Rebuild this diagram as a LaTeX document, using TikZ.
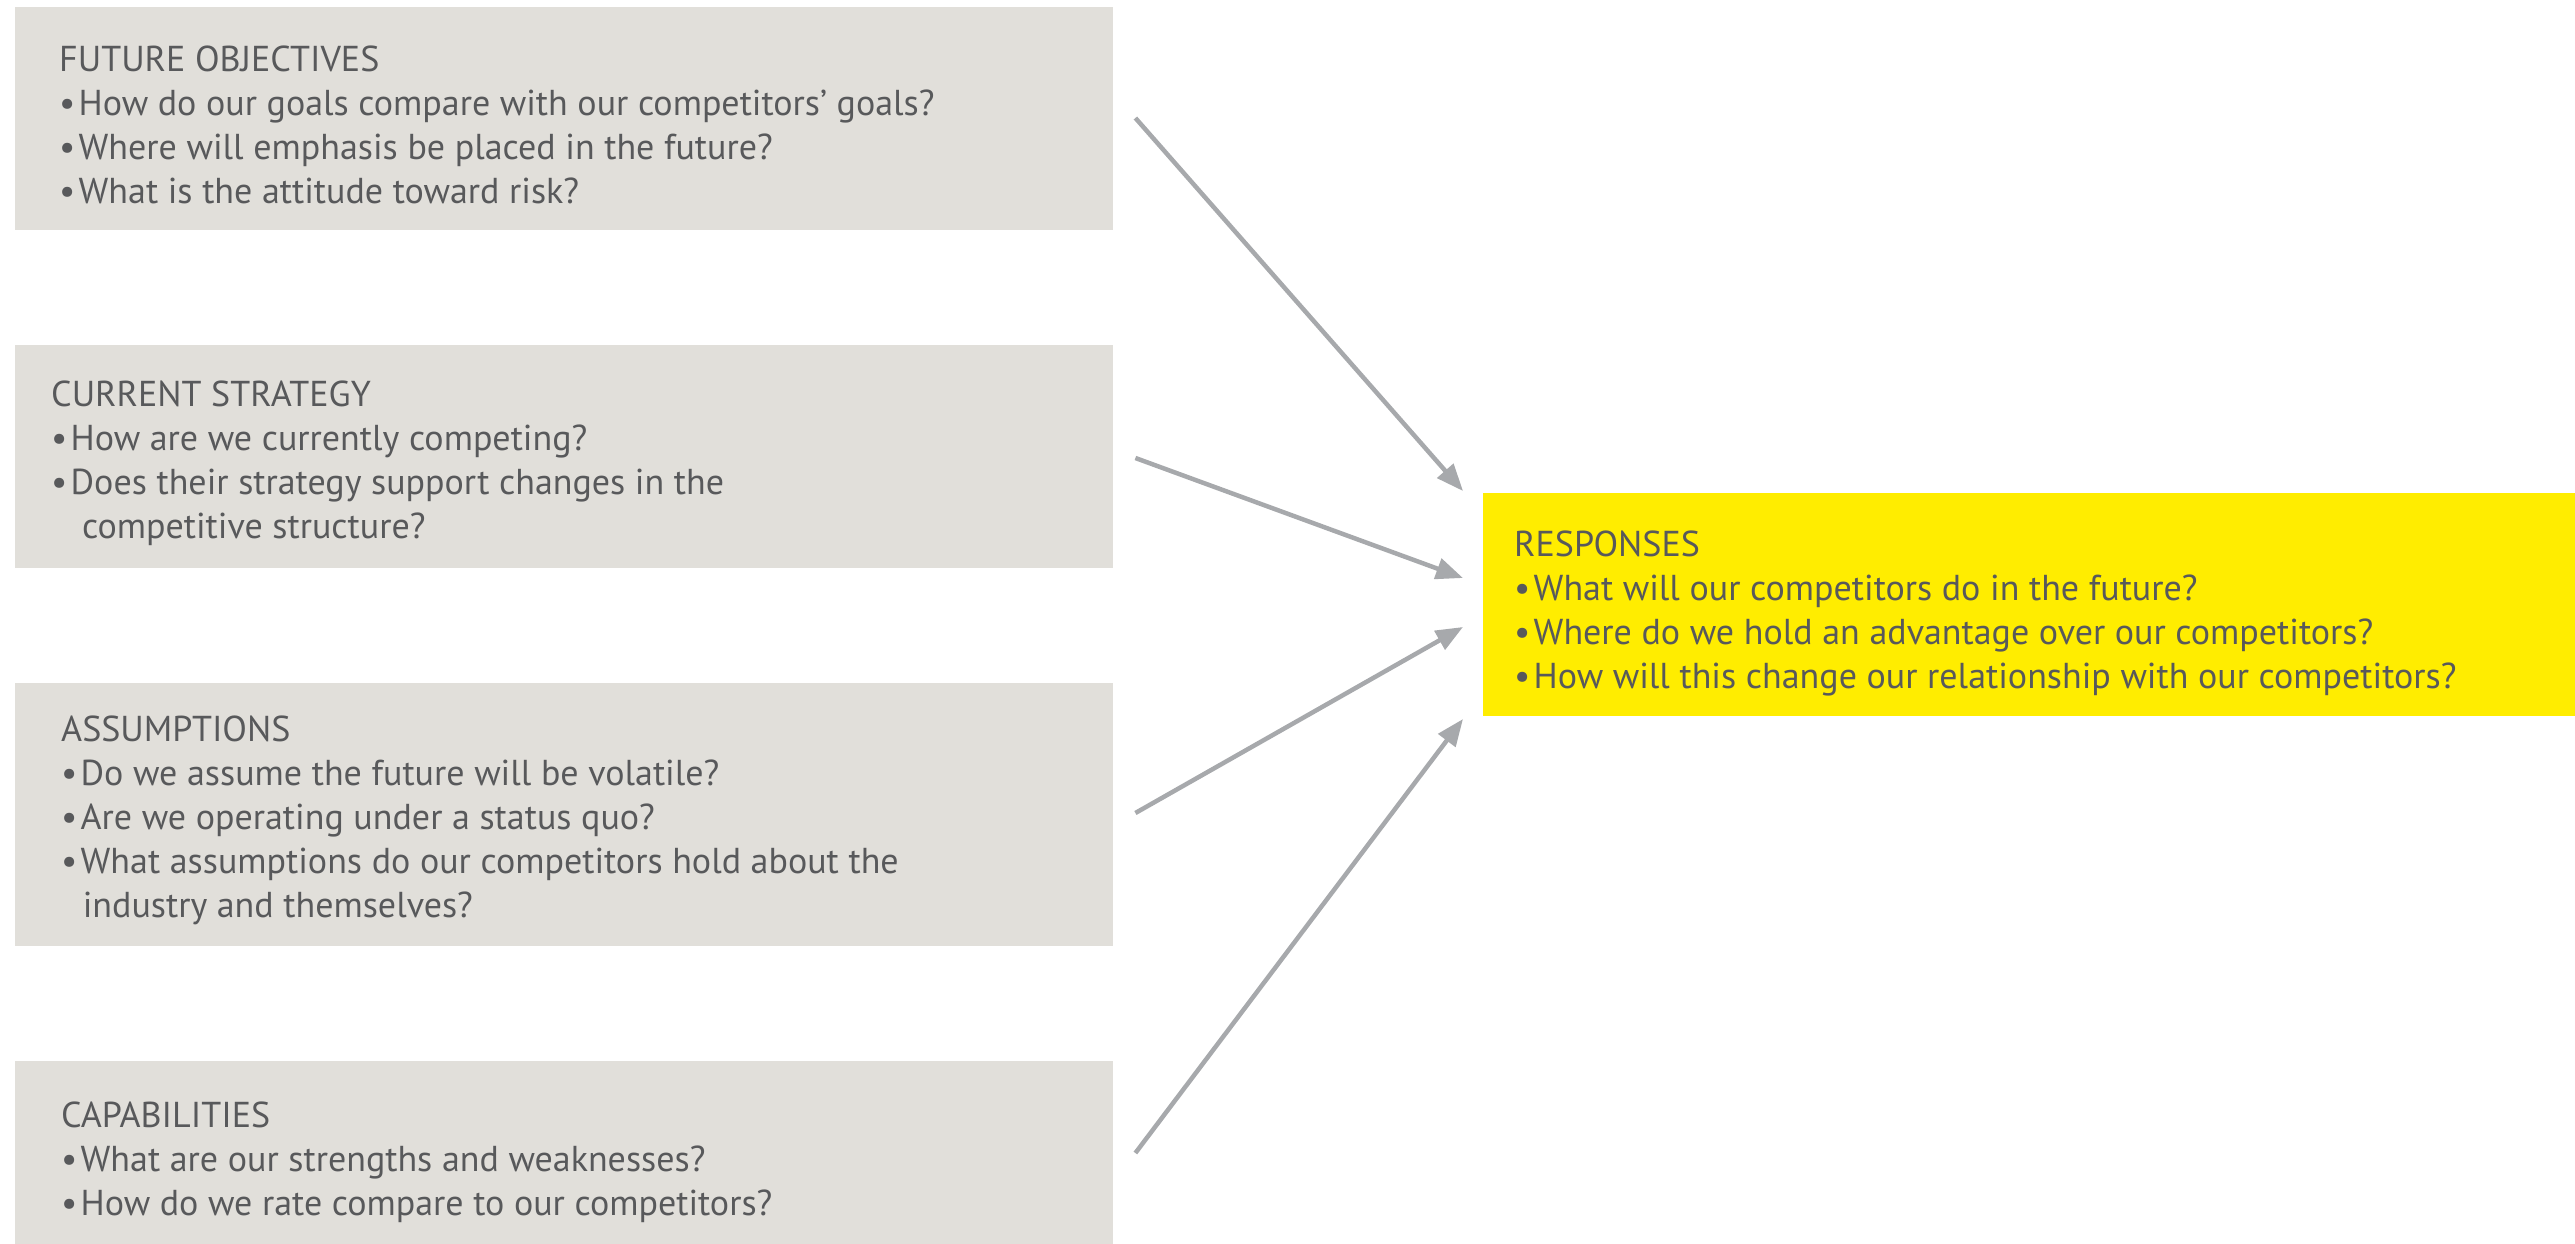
\documentclass[tikz,border=0pt]{standalone}
\usepackage{fontspec}
\setmainfont{PT Sans}
\usetikzlibrary{arrows.meta}
\definecolor{boxgray}{HTML}{E1DFDA}
\definecolor{hiyellow}{HTML}{FFED00}
\definecolor{txtgray}{HTML}{58595B}
\definecolor{arrgray}{HTML}{A7A9AC}
\tikzset{
  panel/.style={fill=boxgray, draw=none, inner sep=0pt, anchor=north west},
  hipanel/.style={fill=hiyellow, draw=none, inner sep=0pt, anchor=north west},
  txt/.style={anchor=north west, inner sep=0pt, align=left, text=txtgray,
    font=\fontsize{36}{44}\selectfont},
  arr/.style={draw=arrgray, line width=4.5pt, -{Triangle[length=27pt,width=21pt]}}
}
\newcommand{\bul}{\textbullet\hspace{0.09em}}
\begin{document}
\begin{tikzpicture}[x=1pt,y=-1pt]
\useasboundingbox (0,0) rectangle (2575,1244);

% input panels
\node[panel, minimum width=1098pt, minimum height=223pt] (fo) at (15,7) {};
\node[panel, minimum width=1098pt, minimum height=223pt] (cs) at (15,345) {};
\node[panel, minimum width=1098pt, minimum height=263pt] (as) at (15,683) {};
\node[panel, minimum width=1098pt, minimum height=183pt] (ca) at (15,1061) {};
% output panel
\node[hipanel, minimum width=1092pt, minimum height=223pt] (re) at (1483,493) {};

% panel texts
\node[txt] (fo-t) at (59,46) {FUTURE OBJECTIVES\\
\bul How do our goals compare with our competitors’ goals?\\
\bul Where will emphasis be placed in the future?\\
\bul What is the attitude toward risk?};

\node[txt] (cs-t) at (51,381) {CURRENT STRATEGY\\
\bul How are we currently competing?\\
\bul Does their strategy support changes in the\\
\hspace*{0.86em}competitive structure?};

\node[txt] (as-t) at (61,716) {ASSUMPTIONS\\
\bul Do we assume the future will be volatile?\\
\bul Are we operating under a status quo?\\
\bul What assumptions do our competitors hold about the\\
\hspace*{0.6em}industry and themselves?};

\node[txt] (ca-t) at (61,1102) {CAPABILITIES\\
\bul What are our strengths and weaknesses?\\
\bul How do we rate compare to our competitors?};

\node[txt] (re-t) at (1514,531) {RESPONSES\\
\bul What will our competitors do in the future?\\
\bul Where do we hold an advantage over our competitors?\\
\bul How will this change our relationship with our competitors?};

% connector end points
\coordinate (s1) at ([xshift=22pt]fo.east |- 0,118);
\coordinate (s2) at ([xshift=22pt]cs.east |- 0,458);
\coordinate (s3) at ([xshift=22pt]as.east |- 0,813);
\coordinate (s4) at ([xshift=22pt]ca.east |- 0,1153);
\coordinate (e1) at ([xshift=-20pt]re.west |- 0,491);
\coordinate (e2) at ([xshift=-20pt]re.west |- 0,578);
\coordinate (e3) at ([xshift=-20pt]re.west |- 0,627);
\coordinate (e4) at ([xshift=-20pt]re.west |- 0,719);

\draw[arr] (s1) -- (e1);
\draw[arr] (s2) -- (e2);
\draw[arr] (s3) -- (e3);
\draw[arr] (s4) -- (e4);
\end{tikzpicture}
\end{document}
